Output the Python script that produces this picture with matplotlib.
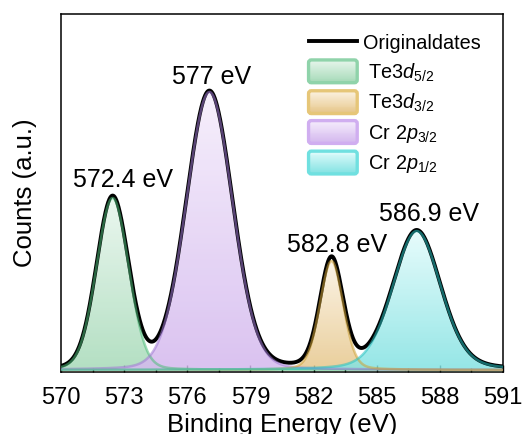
import numpy as np
import matplotlib
matplotlib.use('Agg')
import matplotlib.pyplot as plt
from matplotlib.patches import Rectangle, FancyBboxPatch
from matplotlib.legend_handler import HandlerBase
from matplotlib.lines import Line2D
from matplotlib.colors import to_rgb

plt.rcParams['font.family'] = 'Liberation Sans'
plt.rcParams['mathtext.fontset'] = 'custom'
plt.rcParams['mathtext.rm'] = 'Liberation Sans'
plt.rcParams['mathtext.it'] = 'Liberation Sans:italic'

# fitted components, legend order
names = ['Te3$d_{5/2}$', 'Te3$d_{3/2}$', 'Cr 2$p_{3/2}$', 'Cr 2$p_{1/2}$']
centers = [572.45, 582.85, 577.05, 586.9]
heights = [1720, 1090, 2780, 1390]
fwhm = [1.8, 1.31, 2.6, 2.7]
eta = [0.1, 0.18, 0.1, 0.22]

# peak labels
label_text = ['572.4 eV', '577 eV', '582.8 eV', '586.9 eV']
label_x = [572.95, 577.15, 583.1, 587.5]
label_y = [1830, 2860, 1180, 1490]

xticks = [570, 573, 576, 579, 582, 585, 588, 591]

fill_top = ['#e8f6ed', '#fcf3e3', '#f5edfc', '#e4fcfc']
fill_bottom = ['#a6dab8', '#e6c68a', '#d4b8ee', '#82e2e2']
edge_col = ['#4cbc78', '#cfa236', '#a07ad4', '#26c2c2']
leg_edge = ['#8fd3aa', '#e6c678', '#d0aef0', '#70e0e0']


def pseudo_voigt(x, c, h, w, m):
    g = np.exp(-4 * np.log(2) * ((x - c) / w) ** 2)
    l = 1 / (1 + (2 * (x - c) / w) ** 2)
    return h * (m * l + (1 - m) * g)


class GradientHandler(HandlerBase):
    def __init__(self, top, bottom, edge):
        super().__init__()
        self.top = np.array(to_rgb(top))
        self.bottom = np.array(to_rgb(bottom))
        self.edge = edge

    def create_artists(self, legend, orig_handle, xdescent, ydescent,
                       width, height, fontsize, trans):
        h = height * 1.5
        x0, y0 = -xdescent, -ydescent - 0.25 * height
        arts = []
        n = 24
        for i in range(n):
            f = i / (n - 1)
            c = self.top * (1 - f) + self.bottom * f
            r = Rectangle((x0, y0 + h - (i + 1) * h / n), width, h / n + 0.3,
                          facecolor=c, edgecolor='none', transform=trans)
            arts.append(r)
        b = FancyBboxPatch((x0, y0), width, h, boxstyle='round,pad=0,rounding_size=2',
                           facecolor='none', edgecolor=self.edge, lw=2.4,
                           transform=trans)
        arts.append(b)
        return arts


fig = plt.figure(figsize=(5.25, 4.34), dpi=100)
ax = fig.add_axes([0.1162, 0.1435, 0.8420, 0.8242])

x = np.linspace(570, 591, 1500)
comps = [pseudo_voigt(x, centers[i], heights[i], fwhm[i], eta[i]) for i in range(4)]
total = np.sum(comps, axis=0)

ax.plot(x, total, color='black', lw=2.8, zorder=5, solid_capstyle='round')

for i in [0, 2, 1, 3]:
    y = comps[i]
    poly = ax.fill_between(x, 0, y, facecolor='none', edgecolor='none')
    grad = np.zeros((256, 1, 4))
    t = np.linspace(0, 1, 256)[:, None]
    grad[:, 0, :3] = np.array(to_rgb(fill_top[i])) * (1 - t) + np.array(to_rgb(fill_bottom[i])) * t
    grad[:, 0, 3] = 0.85
    im = ax.imshow(grad, extent=[570, 591, 0, heights[i]], aspect='auto',
                   origin='upper', zorder=2 + i * 0.1, interpolation='bicubic')
    im.set_clip_path(poly.get_paths()[0], transform=ax.transData)
    ax.plot(x, y, color=edge_col[i], lw=1.8, alpha=0.55, zorder=6)

for t_, lx, ly in zip(label_text, label_x, label_y):
    ax.text(lx, ly, t_, ha='center', va='baseline', fontsize=18)

ax.set_xlim(570, 591)
ax.set_ylim(-17, 3560)
ax.set_xticks(xticks)
ax.set_xticks(np.arange(571.5, 591, 3), minor=True)
ax.set_yticks([])
ax.tick_params(axis='x', which='major', direction='in', length=5, width=1, labelsize=17, pad=11)
ax.tick_params(axis='x', which='minor', direction='in', length=3, width=1)
for s in ax.spines.values():
    s.set_linewidth(1.1)
ax.set_xlabel('Binding Energy (eV)', fontsize=18.5, labelpad=3)
ax.set_ylabel('Counts (a.u.)', fontsize=18.5, labelpad=17)

handles = [Line2D([], [], color='black', lw=2.8)]
hmap = {}
for i in range(4):
    r = Rectangle((0, 0), 1, 1)
    handles.append(r)
    hmap[r] = GradientHandler(fill_top[i], fill_bottom[i], leg_edge[i])
labels = ['Originaldates'] + [' ' + n for n in names]
ax.legend(handles, labels, handler_map=hmap, loc='upper left',
          bbox_to_anchor=(0.56, 0.945), frameon=False, fontsize=14.3,
          handlelength=2.45, handleheight=0.8, labelspacing=0.43,
          handletextpad=0.3, borderpad=0, borderaxespad=0)

fig.savefig('out.png', dpi=100)
